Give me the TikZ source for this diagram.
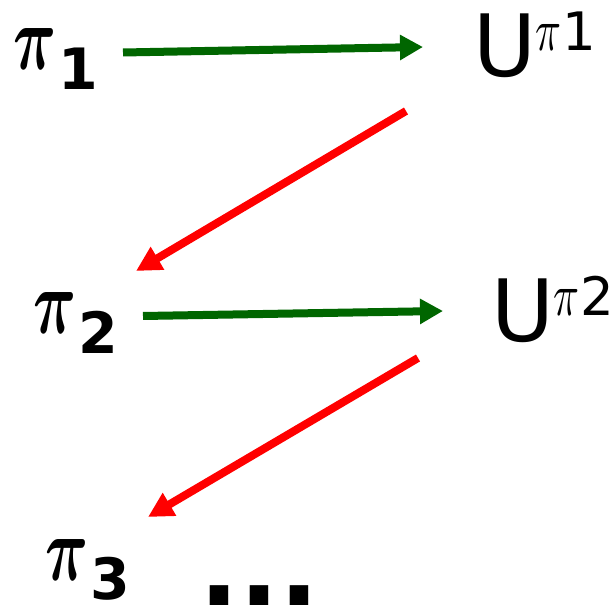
\documentclass[tikz,border=0pt]{standalone}
\usepackage{fontspec}
\usepackage{graphicx}
\usetikzlibrary{arrows.meta,calc}
\DeclareFontShape{OML}{cmm}{m}{it}{<->cmmi10}{}
\DeclareFontShape{OML}{cmm}{b}{it}{<->cmmib10}{}
\newfontfamily\dvs{DejaVu Sans}
\definecolor{evalgreen}{RGB}{0,102,0}
% pi with a bold subscript, and U with a pi superscript
\newcommand{\bigpi}{\resizebox{43pt}{41pt}{\boldmath$\pi$}}
\newcommand{\smallpi}{\resizebox{26pt}{26pt}{$\pi$}}
\newcommand{\pol}[1]{\bigpi\hspace{2pt}\raisebox{-20pt}{\dvs\bfseries\fontsize{57}{57}\selectfont #1}}
\newcommand{\val}[1]{{\dvs\fontsize{86}{86}\selectfont U}\hspace{-1pt}\raisebox{26pt}{\smallpi\hspace{1pt}{\dvs\fontsize{53}{53}\selectfont #1}}}
\tikzset{
  lbl/.style={anchor=base west, inner sep=0pt},
  evalarrow/.style={draw=evalgreen, line width=8pt, -{Triangle[length=23pt,width=24pt]}},
  improvearrow/.style={draw=red, line width=8pt, -{Triangle[length=25pt,width=25pt]}}
}
\begin{document}
\begin{tikzpicture}[x=1pt,y=1pt]
    \useasboundingbox (0,0) rectangle (614,606);
    \node[lbl] (p1) at (13,536) {\pol{1}};
    \node[lbl] (u1) at (473,529) {\val{1}};
    \node[lbl] (p2) at (33,272) {\pol{2}};
    \node[lbl] (u2) at (491,264) {\val{2}};
    \node[lbl] (p3) at (45,26) {\pol{3}};
    \node[lbl] (dots) at (199,1) {\dvs\bfseries\fontsize{105}{105}\selectfont ...};
    % evaluate, then improve
    \draw[evalarrow] ($(p1.base west)+(110,17.5)$) -- ($(u1.base west)+(-50,30)$);
    \draw[improvearrow] ($(u1.base west)+(-67,-34)$) -- ($(p2.base west)+(103,63)$);
    \draw[evalarrow] ($(p2.base west)+(110,18)$) -- ($(u2.base west)+(-48,31)$);
    \draw[improvearrow] ($(u2.base west)+(-73,-16)$) -- ($(p3.base west)+(103,63)$);
\end{tikzpicture}
\end{document}
